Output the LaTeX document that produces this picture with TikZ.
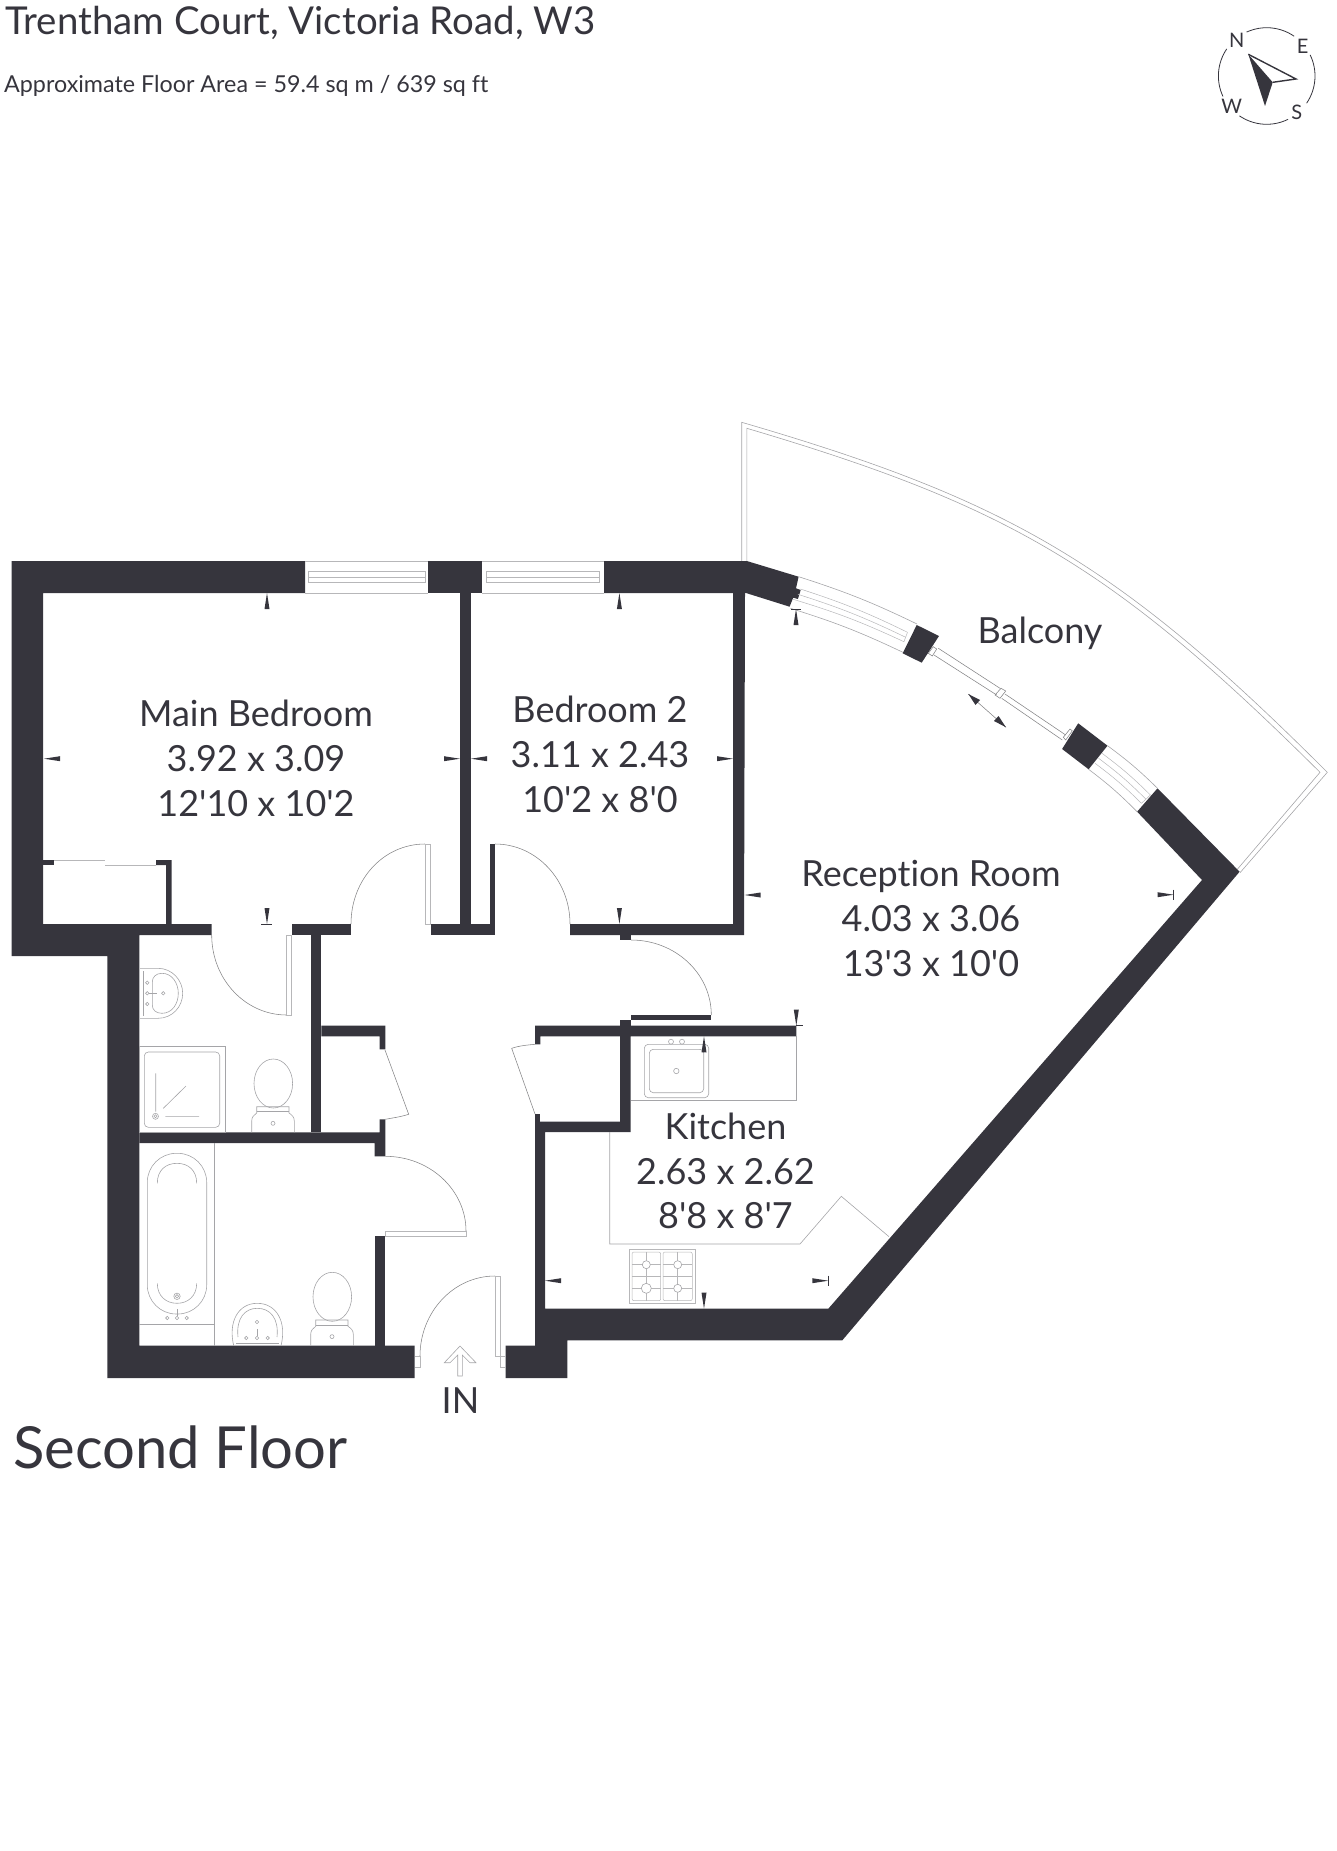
\documentclass[tikz,border=0pt]{standalone}
\usepackage{xcolor}
\usepackage{fontspec}
\setmainfont{Lato}[Ligatures=NoCommon]
\usepackage{tikz}
\definecolor{WallDark}{RGB}{54,53,61}
\definecolor{FixtureGrey}{RGB}{165,165,168}
\tikzset{
    wall/.style={fill=WallDark,draw=none},
    fixture/.style={draw=FixtureGrey,line width=0.6pt},
    glazing/.style={draw=FixtureGrey!80,line width=0.5pt},
    doorline/.style={draw=FixtureGrey!80!black,line width=0.55pt},
    tick/.style={fill=WallDark,draw=none},
    tickbar/.style={draw=WallDark,line width=0.6pt},
    roomtext/.style={anchor=base,text=WallDark,font=\fontsize{36}{40}\selectfont},
}

\begin{document}
\begin{tikzpicture}[x=1pt,y=-1pt]
    \useasboundingbox (0,0) rectangle (1336,1851);

    % headings
    \node[anchor=base west,inner sep=0pt,text=WallDark,font=\fontsize{38.4}{40}\selectfont] (title) at (5,35) {Trentham Court, Victoria Road, W3};
    \node[anchor=base west,inner sep=0pt,text=WallDark,font=\fontsize{23.3}{28}\selectfont] (area) at (4,92.7) {Approximate Floor Area = 59.4 sq m / 639 sq ft};
    \node[anchor=base west,inner sep=0pt,text=WallDark,font=\fontsize{58}{60}\selectfont] (floorname) at (13,1468) {Second Floor};
    \node[roomtext,inner sep=0pt] (entry) at (460.5,1413) {IN};

    % balcony
    \draw[fixture] (741.7,561) -- (741.7,422.3) .. controls (1008.4,500.1) and (1118,563) .. (1327.3,772.3) -- (1240,872.7);
    \draw[fixture] (746.8,561) -- (746.8,428.3) .. controls (1009.9,506.1) and (1113.7,567.3) .. (1320,772.3) -- (1237.3,869.3);

    % walls
    \fill[wall] (11.5,561) -- (305,561) -- (305,593) -- (43,593) -- (43,924) -- (211.7,924) -- (211.7,935) -- (139.3,935) -- (139.3,1345.7) -- (414.7,1345.7) -- (414.7,1378) -- (107.3,1378) -- (107.3,956) -- (11.5,956) -- cycle;
    \fill[wall] (428,561) rectangle (482,593);
    \fill[wall] (604,561) -- (746.8,561) -- (798.6,576.7) -- (796,588.3) -- (800.7,590) -- (797.9,599) -- (793.2,597.7) -- (789.6,606.7) -- (745,592.7) -- (744,935) -- (570,935) -- (570,924) -- (733,924) -- (733,593) -- (604,593) -- cycle;
    \fill[wall] (620,935) rectangle (631,940);
    \fill[wall] (460,593) rectangle (471,924);
    \fill[wall] (430.7,924) rectangle (489.5,935);
    \fill[wall] (489.5,844) rectangle (495,935);
    \fill[wall] (291.7,924) rectangle (350.7,935);
    \fill[wall] (310.7,935) rectangle (321.3,1132.3);
    \fill[wall] (321.3,1025.7) -- (385.3,1025.7) -- (385.3,1049.3) -- (379.7,1049.3) -- (379.7,1036.3) -- (321.3,1036.3) -- cycle;
    \fill[wall] (139.3,1132.3) -- (379.7,1132.3) -- (379.7,1119.3) -- (385.3,1119.3) -- (385.3,1156.3) -- (374.7,1156.3) -- (374.7,1143) -- (139.3,1143) -- cycle;
    \fill[wall] (374.7,1236.3) rectangle (385.3,1346);
    \fill[wall] (535,1025.7) -- (796.3,1025.7) -- (796.3,1036.3) -- (630.7,1036.3) -- (630.7,1132) -- (545,1132) -- (545,1308.7) -- (828.3,1308.7) -- (1202,880) -- (1137.1,811.7) -- (1157.5,788.3) -- (1239.6,871.7) -- (842.3,1340.3) -- (567.3,1340.3) -- (567.3,1378) -- (505.7,1378) -- (505.7,1345.7) -- (535,1345.7) -- (535,1121.7) -- (620,1121.7) -- (620,1036.3) -- (540.3,1036.3) -- (540.3,1044.3) -- (535,1044.3) -- cycle;
    \fill[wall] (535,1113.7) rectangle (540.3,1121.7);
    \fill[wall] (620,1020) rectangle (630.7,1025.7);
    \fill[wall] (631,1015) rectangle (711.3,1020);
    \fill[wall] (43,860) rectangle (54,865);
    \fill[wall] (156,860) -- (171.6,860) -- (171.6,924) -- (166,924) -- (166,865) -- (156,865) -- cycle;
    \fill[wall] (916.7,625) -- (939,636) -- (921.7,662.7) -- (902.7,653.3) -- cycle;
    \fill[wall] (1078.2,723.3) -- (1107.5,745.7) -- (1088.6,769.3) -- (1062.1,749) -- cycle;

    % wardrobe slide
    \draw[glazing] (54,860) -- (105,860);
    \draw[glazing] (105,865) -- (156,865);

    % top windows
    \draw[glazing] (305,561) -- (428,561) (305,593) -- (428,593) (308.5,571.7) rectangle (425,582.3) (308.5,577.3) -- (425,577.3);
    \draw[glazing] (482,561) -- (604,561) (482,593) -- (604,593) (486.6,571.7) rectangle (599.5,582.3) (486.6,577.3) -- (599.5,577.3);

    % bay windows
    \draw[fixture] (798.6,576.7) to[bend left=4] (917,624);
    \draw[fixture] (790.4,608.3) to[bend left=4] (902.9,652.3);
    \draw[glazing] (800.4,589) to[bend left=4] (907.5,632.3);
    \draw[glazing] (797.9,594.3) to[bend left=4] (905.7,637.3);
    \draw[glazing] (793.2,599.3) to[bend left=4] (903.9,641.7);
    \draw[glazing] (907.5,632.3) -- (903.9,641.7);
    \draw[fixture] (1107.5,745.7) to[bend left=4] (1157.5,788.3);
    \draw[fixture] (1088.6,769.3) to[bend left=4] (1137.1,811.7);
    \draw[glazing] (1102,753.3) to[bend left=4] (1150.4,795);
    \draw[glazing] (1098.6,758.3) to[bend left=4] (1145.7,799);
    \draw[glazing] (1095,763.3) to[bend left=4] (1141.4,803.3);
    \draw[glazing] (1150.4,795) -- (1141.4,803.3);

    % sliding door
    \draw[doorline] (928.3,653.3) -- (933.3,646.7) -- (936.7,649) -- (932.3,656) -- cycle;
    \draw[doorline] (938.3,648.3) -- (1000,688.3) (934,655) -- (996.7,695);
    \draw[doorline] (995,695) -- (1001,688.3) -- (1005.7,691) -- (1000,698.3) -- cycle;
    \draw[doorline] (1005,694) -- (1065.7,735) (1001.7,698.3) -- (1062.3,740);
    \draw[doorline] (1063.3,737.3) -- (1070,729) -- (1072.3,730.8) -- (1065.7,740) -- cycle;
    \draw[doorline] (968.3,694) -- (1006,727.3);
    \fill[tick] (968.3,694) -- (980,700) -- (975.5,705) -- cycle;
    \fill[tick] (1006,727.3) -- (994,721) -- (998.5,716) -- cycle;

    % doors
    \draw[doorline] (425,844) .. controls (384,844) and (351,879) .. (351,924);
    \draw[glazing] (425,844) rectangle (430.7,924);
    \draw[doorline] (495,844) .. controls (536.4,844) and (570,879.8) .. (570,924);
    \draw[doorline] (211.7,935) .. controls (211.7,979.2) and (245.3,1015) .. (286.7,1015);
    \draw[glazing] (286.7,935) rectangle (291.7,1015);
    \draw[doorline] (631,940) .. controls (675.4,940) and (711.3,973.6) .. (711.3,1015);
    \draw[doorline] (385.3,1156.3) .. controls (429.9,1156.3) and (466,1190) .. (466,1231);
    \draw[glazing] (385.3,1231) rectangle (466,1236.3);
    \draw[doorline] (495,1276) .. controls (453.6,1276) and (420,1312) .. (420,1356);
    \draw[glazing] (495,1276) rectangle (500.3,1356);
    \draw[glazing] (414.7,1356) -- (420,1356) -- (420,1367) -- (414.7,1367);
    \draw[glazing] (505.7,1356) -- (500.3,1356) -- (500.3,1367) -- (505.7,1367);
    \draw[doorline] (385,1050) -- (408.7,1114.3) .. controls (400,1117) and (392,1118) .. (385.3,1119.3);
    \draw[doorline] (535,1114) -- (511.7,1048.3) .. controls (520,1045.5) and (528,1045) .. (535,1044.3);

    % entry arrow
    \draw[fixture] (444.3,1362.7) -- (460,1346) -- (476,1362.7) -- (470,1362.7) -- (462.3,1355) -- (462.3,1376) -- (457.7,1376) -- (457.7,1355) -- (450,1362.7) -- cycle;

    % ensuite basin
    \draw[fixture] (140,968.3) -- (158,968.3) .. controls (172,968.3) and (182.7,980) .. (182.7,993.3) .. controls (182.7,1007) and (172,1018.3) .. (158,1018.3) -- (140,1018.3);
    \draw[fixture] (143,971) -- (143,1016);
    \draw[fixture] (162,973.3) .. controls (172,973.3) and (178.3,983) .. (178.3,993.3) .. controls (178.3,1004) and (172,1013.3) .. (162,1013.3) .. controls (156,1013.3) and (152.3,1010) .. (152.3,1005) -- (152.3,982) .. controls (152.3,977) and (156,973.3) .. (162,973.3);
    \foreach \x/\y in {147.3/982.7,147.3/993.3,147.3/1004,163.3/993.3}
        \draw[fixture] (\x,\y) circle (1.7);
    \draw[fixture] (149,993.3) -- (157,993.3);

    % shower
    \draw[fixture] (139.3,1046.7) rectangle (225,1132.3);
    \draw[fixture,rounded corners=4pt] (144.3,1052) rectangle (219.7,1127.3);
    \draw[fixture] (155.7,1073.3) -- (155.7,1111.7) (163.3,1108.3) -- (186,1086) (165.3,1116.3) -- (199,1116.3);
    \draw[fixture] (155.5,1116.3) circle (3);
    \draw[fixture] (155.5,1116.3) circle (1.5);

    % toilets
    \foreach \dx/\dy in {0/0,59/213.3} {
        \draw[fixture] (273.3+\dx,1083.5+\dy) ellipse [x radius=19.3,y radius=24.5];
        \draw[fixture] (251.7+\dx,1132.3+\dy) -- (251.7+\dx,1121+\dy) .. controls (251.7+\dx,1117+\dy) and (254+\dx,1115+\dy) .. (256.7+\dx,1113+\dy) -- (256.7+\dx,1106.7+\dy) -- (289+\dx,1106.7+\dy) -- (289+\dx,1113+\dy) .. controls (292+\dx,1115+\dy) and (294.3+\dx,1117+\dy) .. (294.3+\dx,1121+\dy) -- (294.3+\dx,1132.3+\dy);
        \draw[fixture] (256.7+\dx,1111.7+\dy) -- (289+\dx,1111.7+\dy);
        \draw[fixture] (273+\dx,1123.3+\dy) circle (2);
    }

    % bath
    \draw[fixture] (214.3,1143) -- (214.3,1345.7) (139.3,1324.3) -- (214.3,1324.3);
    \draw[fixture,rounded corners=29pt] (147.3,1153.3) rectangle (206.7,1314);
    \draw[fixture] (157.3,1183.3) .. controls (157.3,1170) and (166,1163.3) .. (177,1163.3) .. controls (188,1163.3) and (196.7,1170) .. (196.7,1183.3);
    \draw[fixture] (157.3,1283.3) .. controls (157.3,1296) and (166,1303.3) .. (177,1303.3) .. controls (188,1303.3) and (196.7,1296) .. (196.7,1283.3);
    \draw[fixture] (177,1296.3) circle (3.2);
    \draw[fixture] (177,1296.3) circle (1.7);
    \foreach \x in {167.3,177,186.7}
        \draw[fixture] (\x,1318) circle (1.7);
    \draw[fixture] (177,1309) -- (177,1316);

    % bathroom basin
    \draw[fixture] (233.7,1345.7) .. controls (228,1322) and (238,1303.3) .. (257.3,1303.3) .. controls (276.6,1303.3) and (287,1322) .. (281,1345.7);
    \draw[fixture] (238,1337) .. controls (236,1318) and (245,1308.3) .. (257.3,1308.3) .. controls (270,1308.3) and (279,1318) .. (277,1337);
    \draw[fixture] (236,1343.5) -- (279,1343.5);
    \foreach \x/\y in {257/1322,246.3/1338,257/1338,267.7/1338}
        \draw[fixture] (\x,\y) circle (1.7);
    \draw[fixture] (257,1329) -- (257,1336);

    % kitchen worktops
    \draw[fixture] (630.7,1100.3) -- (796.3,1100.3) -- (796.3,1036.3);
    \draw[fixture] (609.7,1132) -- (609.7,1244) -- (800,1244) -- (841.3,1196.3) -- (889,1236.7);

    % kitchen sink
    \draw[fixture,rounded corners=4pt] (644.3,1044.3) rectangle (708.7,1097.7);
    \draw[fixture,rounded corners=4pt] (649.3,1049.3) rectangle (703.7,1092.7);
    \draw[fixture] (676.3,1071) circle (2.7);
    \draw[fixture] (671,1041.7) circle (2.5);
    \draw[fixture] (682,1041.7) circle (2.5);

    % hob
    \draw[glazing] (629.7,1249.3) rectangle (695,1303.3);
    \draw[glazing,rounded corners=2pt] (632,1252) rectangle (660.7,1300.7);
    \draw[glazing,rounded corners=2pt] (663,1252) rectangle (692.3,1300.7);
    \foreach \y in {1264.7,1276.7,1288.3}
        \draw[glazing] (632,\y) -- (660.7,\y) (663,\y) -- (692.3,\y);
    \draw[glazing] (646.3,1252) -- (646.3,1300.7) (677.7,1252) -- (677.7,1300.7);
    \foreach \x/\y/\r in {646.3/1264.7/4,677.7/1264.7/4,646.3/1288.3/5,677.7/1288.3/4}
        \draw[fixture,fill=white] (\x,\y) circle (\r);

    % dimension ticks
    \foreach \x/\y/\r in {267/593/-90,619.4/593/-90,796/609/-90,704/1036.3/-90,
                          267/924/90,619.4/924/90,796.3/1025.7/90,704/1308.7/90,
                          44/758.7/0,471/758.7/0,744.5/895/0,545/1280.7/0,
                          460/758.7/180,733/758.7/180,1173.6/894.7/180,828.3/1280.7/180}
        \fill[tick,shift={(\x,\y)},rotate=\r] (0,0) -- (16,-2.5) -- (16,2.5) -- cycle;
    \draw[tickbar] (261,924) -- (272,924);
    \draw[tickbar] (791,609) -- (801,609);
    \draw[tickbar] (796.3,1025.7) -- (803,1025.7);
    \draw[tickbar] (1173.6,889.5) -- (1173.6,900);
    \draw[tickbar] (828.3,1275.5) -- (828.3,1286);

    % room labels
    \node[roomtext] (mainbed) at (256,726.7) {Main Bedroom};
    \node[roomtext] (mainbedm) at (256,771.7) {3.92 x 3.09};
    \node[roomtext] (mainbedf) at (256,816.7) {12\textquotesingle10 x 10\textquotesingle2};
    \node[roomtext] (bedtwo) at (600,722.7) {Bedroom 2};
    \node[roomtext] (bedtwom) at (600,767.7) {3.11 x 2.43};
    \node[roomtext] (bedtwof) at (600,812.3) {10\textquotesingle2 x 8\textquotesingle0};
    \node[roomtext] (reception) at (931,886.7) {Reception Room};
    \node[roomtext] (receptionm) at (931,931.7) {4.03 x 3.06};
    \node[roomtext] (receptionf) at (931,976.7) {13\textquotesingle3 x 10\textquotesingle0};
    \node[roomtext] (kitchen) at (725.5,1139.3) {Kitchen};
    \node[roomtext] (kitchenm) at (725.5,1184.3) {2.63 x 2.62};
    \node[roomtext] (kitchenf) at (725.5,1228.7) {8\textquotesingle8 x 8\textquotesingle7};
    \node[roomtext] (balcony) at (1040,643.3) {Balcony};

    % compass
    \begin{scope}[shift={(1266.7,76)},y=1pt]
        \foreach \a/\b in {114.6/55.4,25.9/-34.3,-63.8/-124.4,-155/-214.1}
            \draw[WallDark,line width=0.8pt] (\a:48.3) arc [start angle=\a,end angle=\b,radius=48.3];
    \end{scope}
    \node[text=WallDark,font=\fontsize{20}{22}\selectfont,inner sep=0pt] (north) at (1236.7,40.7) {N};
    \node[text=WallDark,font=\fontsize{20}{22}\selectfont,inner sep=0pt] (east) at (1302.7,46.7) {E};
    \node[text=WallDark,font=\fontsize{20}{22}\selectfont,inner sep=0pt] (west) at (1231.7,106.7) {W};
    \node[text=WallDark,font=\fontsize{20}{22}\selectfont,inner sep=0pt] (south) at (1296.7,112.3) {S};
    \fill[WallDark] (1248.3,54.3) -- (1272.7,82.3) -- (1265,106) -- cycle;
    \draw[WallDark,line width=1.4pt,line join=miter] (1248.3,54.3) -- (1296,79) -- (1272.7,82.3);
\end{tikzpicture}
\end{document}
